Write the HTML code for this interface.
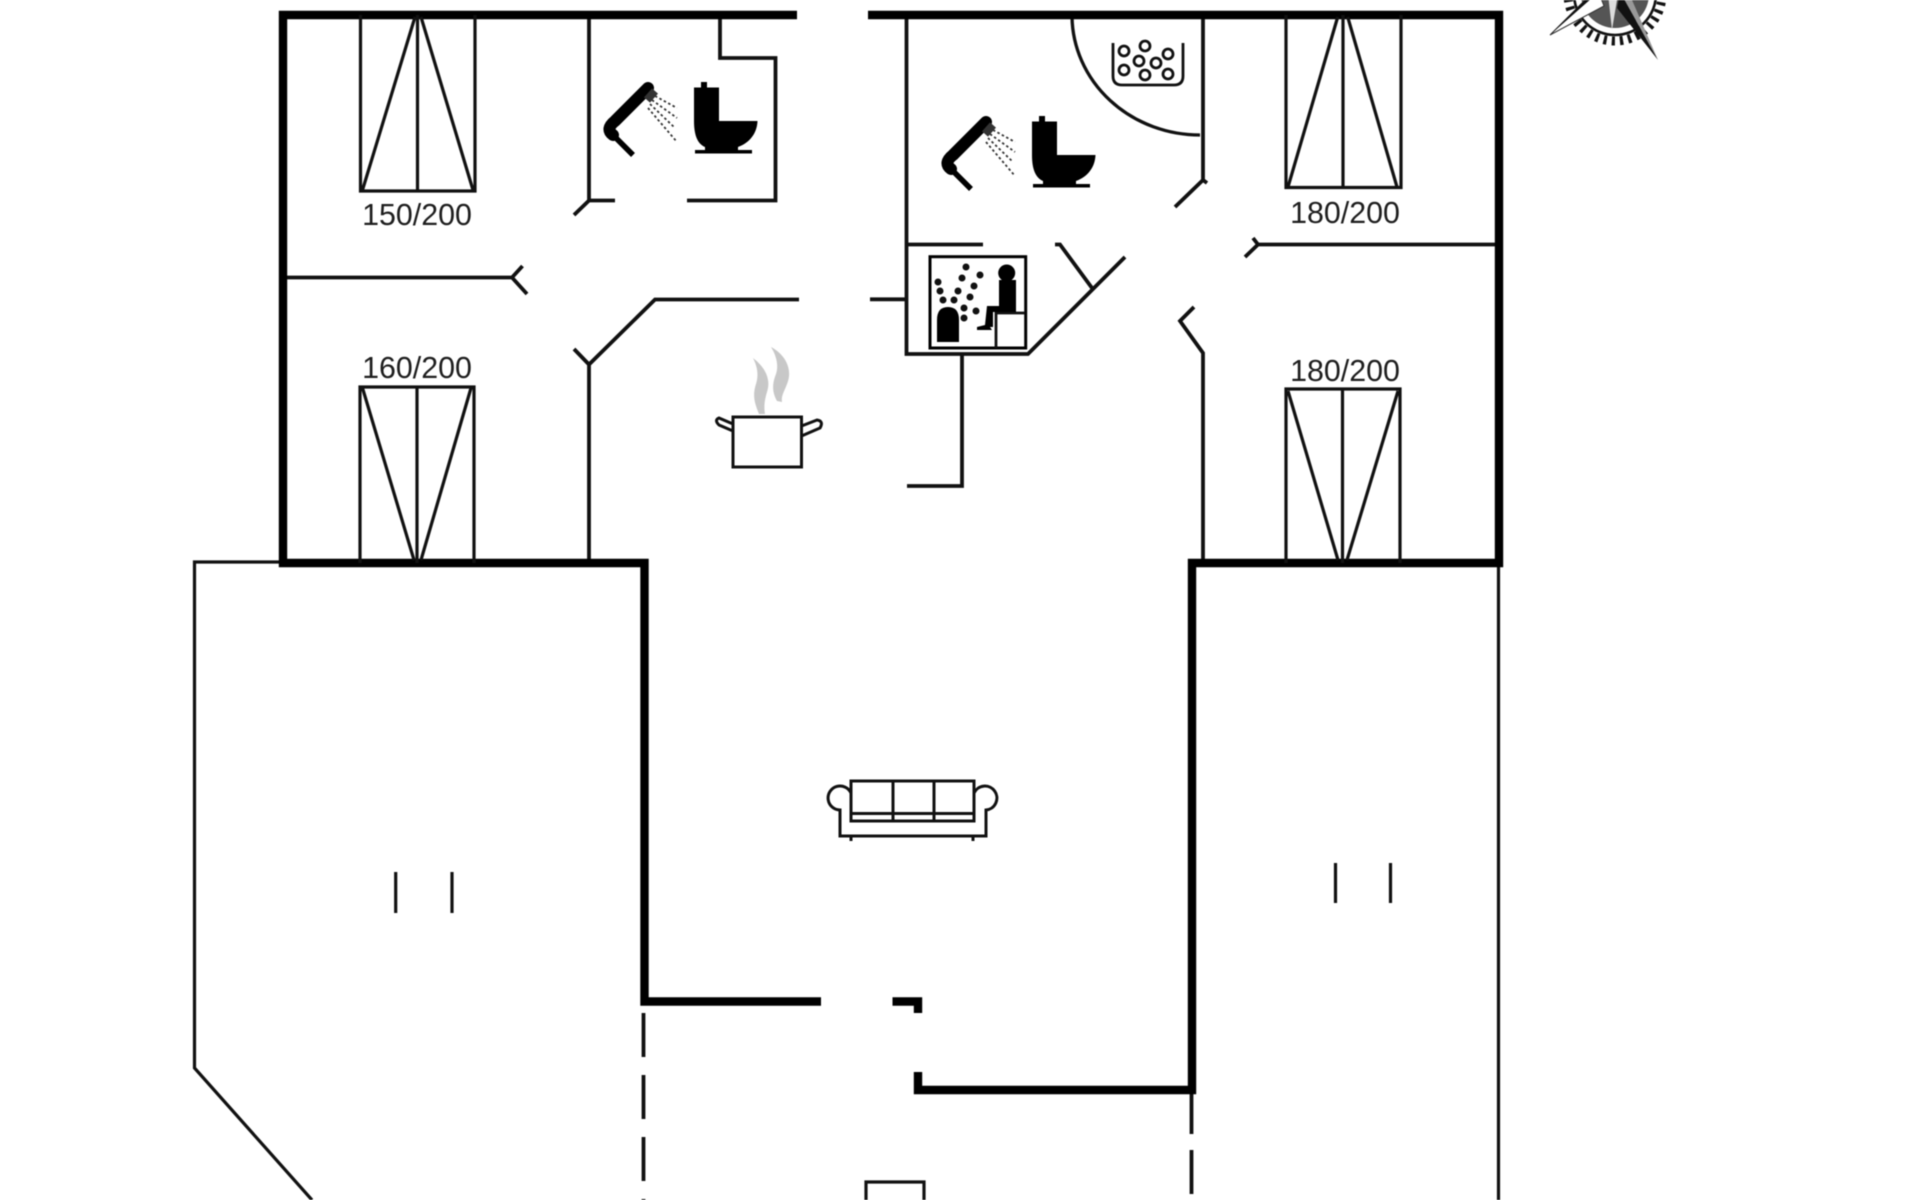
<!DOCTYPE html>
<html><head><meta charset="utf-8"><style>
html,body{margin:0;padding:0;background:#fff;width:1920px;height:1200px;overflow:hidden}
svg{display:block;filter:blur(.55px)}
text{font-family:"Liberation Sans",sans-serif;font-size:30.4px;fill:#1e1e1e;text-anchor:middle}
</style></head><body>
<svg width="1920" height="1200" viewBox="0 0 1920 1200" xmlns="http://www.w3.org/2000/svg">
<rect width="1920" height="1200" fill="#fff"/>
<!-- thin walls -->
<g fill="none" stroke="#111" stroke-width="3.800" stroke-linejoin="miter">
<path d="M589 15V200.500H615M574 215L589 200.500M687 200.500H775.500V58H720V15"/>
<path d="M283 277.500H512M522.500 266L512 277.500L527 294"/>
<path d="M799 299.500H655L589 364.500L574 349M589 364.500V563"/>
<path d="M906.500 15V354H1028L1125 257M870 299.300H906.500M906.500 244.500H983"/>
<path d="M1055 244.500H1060L1092 288"/>
<path d="M962 354V486H907"/>
<path d="M1203 15V180M1175 207L1203 180L1207 183"/>
<path d="M1194 307L1180 321L1203 353V563"/>
<path d="M1245 257L1258 244.500H1499M1253 238L1258 244.500"/>
<path d="M1072 17A128 120 0 0 0 1200 135" stroke-width="3.300"/>
</g>
<!-- outline / thin exterior -->
<g fill="none" stroke="#111" stroke-width="3.200">
<path d="M283 562H194.500V1068L312 1200"/>
<path d="M1498.500 563V1200"/>
<path d="M395.700 872V913M452 872V913M1335.500 863V903M1390.500 863V903"/>
<path d="M866 1200V1182H924V1200"/>
</g>
<g fill="none" stroke="#111" stroke-width="3.800">
<path d="M643.500 1013V1200" stroke-dasharray="44 18"/>
<path d="M1191.500 1090V1200" stroke-dasharray="44 16"/>
</g>
<!-- thick walls -->
<g fill="none" stroke="#000" stroke-width="8.400" stroke-linejoin="miter">
<path d="M797 15H283V563H644.500V1001.500H821"/>
<path d="M868 15H1499V563H1192V1090H918V1072"/>
<path d="M892.500 1001.500H918V1013"/>
</g>
<!-- beds -->
<g fill="none" stroke="#111" stroke-width="3.200">
<path d="M360.500 15V191H475V15M417.500 15V191M362.500 190L415 17M473 190L421 17"/>
<path d="M360 563V387H474V563M417 387V563M362.500 388L414 560M471 388L421 560"/>
<path d="M1286 15V187.500H1401V15M1343 15V187.500M1288 187L1337.700 17M1397 187L1347.700 17"/>
<path d="M1286 563V389H1400V563M1342.500 389V563M1288 391L1338 560M1398 391L1347 560"/>
</g>
<text x="417" y="225">150/200</text>
<text x="417" y="378">160/200</text>
<text x="1345" y="223">180/200</text>
<text x="1345" y="381">180/200</text>
<!-- toilet + shower right -->
<g>
<path d="M1032 121.500H1039V116H1045V121.500H1057V155H1095.500C1095 168 1087 177 1076 181V184H1043V181C1036 178 1032 170 1032 155Z" fill="#000"/>
<rect x="1033" y="184" width="57" height="3.500" fill="#000"/>
<path d="M986 122L953 155Q943 163 951 169" fill="none" stroke="#000" stroke-width="12" stroke-linecap="round"/>
<path d="M950 168L971 189" fill="none" stroke="#000" stroke-width="5.500"/>
<path d="M993 125L985 134" fill="none" stroke="#333" stroke-width="8"/>
<path d="M993 130L1015 142M990 134L1015 152M988 138L1013 162M986 142L1015 176" fill="none" stroke="#333" stroke-width="1.800" stroke-dasharray="2.500 2.500"/>
</g>
<g transform="translate(-338 -34)">
<path d="M1032 121.500H1039V116H1045V121.500H1057V155H1095.500C1095 168 1087 177 1076 181V184H1043V181C1036 178 1032 170 1032 155Z" fill="#000"/>
<rect x="1033" y="184" width="57" height="3.500" fill="#000"/>
<path d="M986 122L953 155Q943 163 951 169" fill="none" stroke="#000" stroke-width="12" stroke-linecap="round"/>
<path d="M950 168L971 189" fill="none" stroke="#000" stroke-width="5.500"/>
<path d="M993 125L985 134" fill="none" stroke="#333" stroke-width="8"/>
<path d="M993 130L1015 142M990 134L1015 152M988 138L1013 162M986 142L1015 176" fill="none" stroke="#333" stroke-width="1.800" stroke-dasharray="2.500 2.500"/>
</g>
<!-- hot tub -->
<g fill="none" stroke="#111" stroke-width="2.800">
<path d="M1113 43V76Q1113 85 1122 85H1174Q1183 85 1183 76V43"/>
<circle cx="1124" cy="51" r="5"/><circle cx="1145" cy="46" r="5"/><circle cx="1168" cy="54" r="5"/>
<circle cx="1139" cy="61" r="5"/><circle cx="1156" cy="63" r="5"/><circle cx="1124" cy="70" r="5"/>
<circle cx="1145" cy="75" r="5"/><circle cx="1168" cy="74" r="5"/>
</g>
<!-- sauna -->
<g>
<rect x="930" y="256.700" width="95.700" height="91.300" fill="none" stroke="#000" stroke-width="3"/>
<path d="M996 348V313H1025" fill="none" stroke="#111" stroke-width="2.800"/>
<path d="M937 342V320Q937 307 948 307Q959 307 959 320V342Z" fill="#000"/>
<circle cx="1006.700" cy="273" r="8.500" fill="#000"/>
<path d="M999 280H1016V312H993V327H990L992 330H977V327L985 325L987 306H999Z" fill="#000"/>
<g fill="#111">
<circle cx="966" cy="267" r="3.500"/><circle cx="938" cy="282" r="3.500"/><circle cx="962" cy="278" r="3.500"/>
<circle cx="980" cy="275" r="3.500"/><circle cx="974" cy="286" r="3.500"/><circle cx="940" cy="291" r="3.500"/>
<circle cx="958" cy="291" r="3.500"/><circle cx="970" cy="297" r="3.500"/><circle cx="943" cy="300" r="3.500"/>
<circle cx="954" cy="300" r="3.500"/><circle cx="964" cy="308" r="3.500"/><circle cx="976" cy="311" r="3.500"/>
<circle cx="964" cy="318" r="3.500"/>
</g>
</g>
<!-- pot -->
<g fill="none" stroke="#111" stroke-width="3">
<rect x="733" y="417" width="68.500" height="50"/>
<path d="M733 431L719 425Q714 420 719 418L733 424"/>
<path d="M801.500 436L820 428Q824 421 817 420L801.500 426"/>
</g>
<path d="M753 358C766 368 771 380 767 392C764 402 764 408 765 414L759 414C755 404 752 396 756 384C759 374 757 366 753 358Z" fill="#c8c8c8"/>
<path d="M771 347C786 355 793 370 787 384C784 392 781 396 782 402L777 401C772 392 772 384 776 374C779 365 776 355 771 347Z" fill="#c8c8c8"/>
<!-- sofa -->
<g fill="none" stroke="#111" stroke-width="3">
<rect x="851" y="781" width="123" height="40"/>
<path d="M893 781V821M934 781V821M851 813.500H974"/>
<path d="M851 793A12 12 0 1 0 840 810V836H986V810A12 12 0 1 0 974 793"/>
<path d="M851 836V841M973 836V841"/>
</g>
<!-- compass -->
<g>
<circle cx="1615" cy="-6" r="47" fill="none" stroke="#111" stroke-width="9" stroke-dasharray="3.200 5"/>
<circle cx="1615" cy="-6" r="41" fill="none" stroke="#111" stroke-width="2.600"/>
<circle cx="1615" cy="-6" r="34" fill="#555"/>
<polygon points="1597,-12 1550,35 1604,6" fill="#fff" stroke="#333" stroke-width="1"/>
<polygon points="1597,-12 1550,35 1592,-2" fill="#111"/>
<polygon points="1620,-8 1658,60 1632,0" fill="#999"/>
<polygon points="1620,-8 1658,60 1617,8" fill="#111"/>
<polygon points="1618,-6 1612,30 1608,-6" fill="#ddd"/>
</g>
</svg>
</body></html>
